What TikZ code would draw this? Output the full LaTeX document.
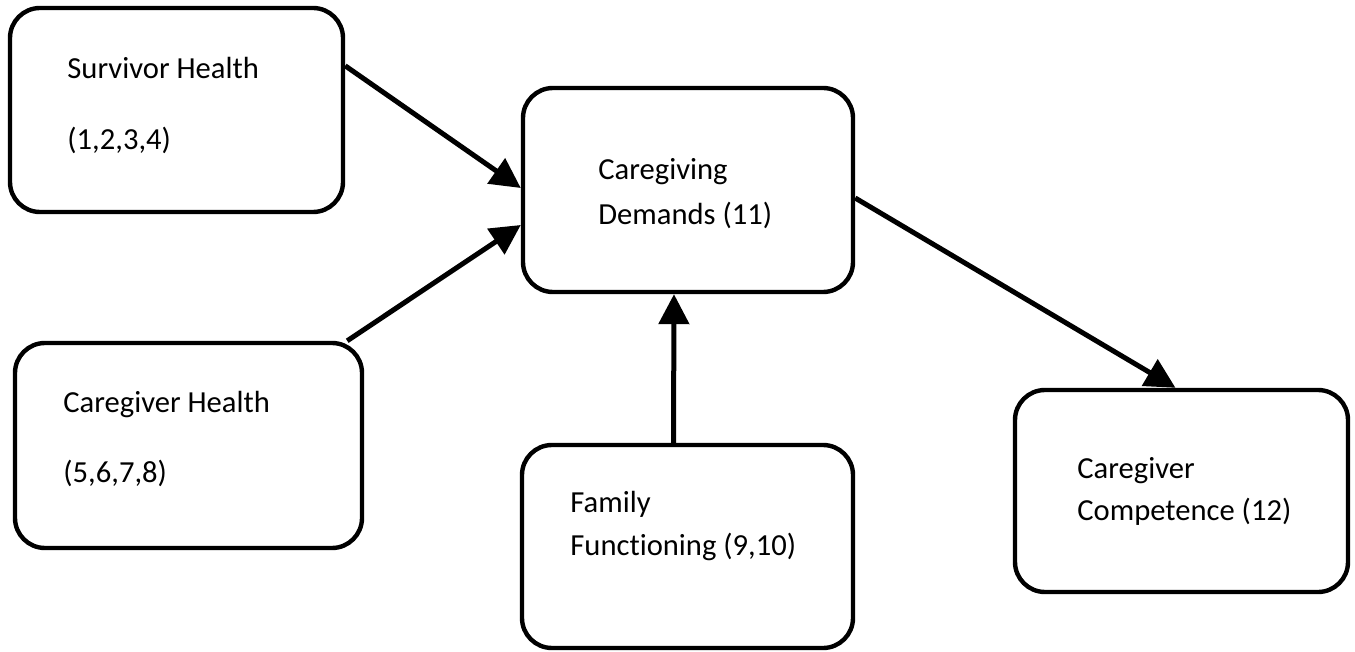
\documentclass[tikz,border=0pt]{standalone}
\usepackage{fontspec}
\setmainfont{Carlito}[Ligatures={NoCommon}]
\usepackage{tikz}
\usetikzlibrary{arrows.meta}
\usetikzlibrary{positioning}
\usetikzlibrary{calc}
\tikzset{>={Triangle[length=15pt,width=15pt]}}
\newcommand\boxline{2.2pt}
\newcommand\boxround{15pt}
\tikzset{
    factor/.style={draw, line width=\boxline, rounded corners=\boxround, inner sep=0pt},
    caption/.style={anchor=base west, inner sep=0pt, font=\fontsize{15.3}{18}\selectfont},
    path/.style={->, line width=2.5pt},
}
\begin{document}
\begin{tikzpicture}[x=0.5pt,y=-0.5pt]
    \useasboundingbox (0,0) rectangle (1355,652);
    % boxes
    \node(surv)[factor, minimum width=166.5pt, minimum height=102pt] at (176.5,110) {};
    \node(cgh)[factor, minimum width=173.5pt, minimum height=102.5pt] at (188.5,445.5) {};
    \node(dem)[factor, minimum width=165pt, minimum height=102pt] at (688,190) {};
    \node(fam)[factor, minimum width=165.5pt, minimum height=101.5pt] at (687.5,546.5) {};
    \node(comp)[factor, minimum width=166.5pt, minimum height=101pt] at (1181.5,491) {};
    % texts
    \node(survname)[caption] at (67,79) {Survivor Health};
    \node(survitems)[caption] at (67,150) {(1,2,3,4)};
    \node(cghname)[caption] at (63,412) {Caregiver Health};
    \node(cghitems)[caption] at (63,482) {(5,6,7,8)};
    \node(demname)[caption] at (598,180) {Caregiving};
    \node(demitems)[caption] at (598,225) {Demands (11)};
    \node(famname)[caption] at (570,512) {Family};
    \node(famitems)[caption] at (570,555) {Functioning (9,10)};
    \node(compname)[caption] at (1077,478) {Caregiver};
    \node(compitems)[caption] at (1077,520) {Competence (12)};
    % paths
    \draw[path] ([yshift=-30pt]surv.north east) -- ([yshift=1pt]dem.west);
    \draw[path] ([xshift=-8.5pt]cgh.north east) -- ([yshift=-17.5pt]dem.west);
    \draw[path] ([xshift=-7pt]fam.north) -- ([xshift=-7pt]dem.south);
    \draw[path] ([yshift=-4pt]dem.east) -- ([xshift=-3pt]comp.north);
\end{tikzpicture}
\end{document}
